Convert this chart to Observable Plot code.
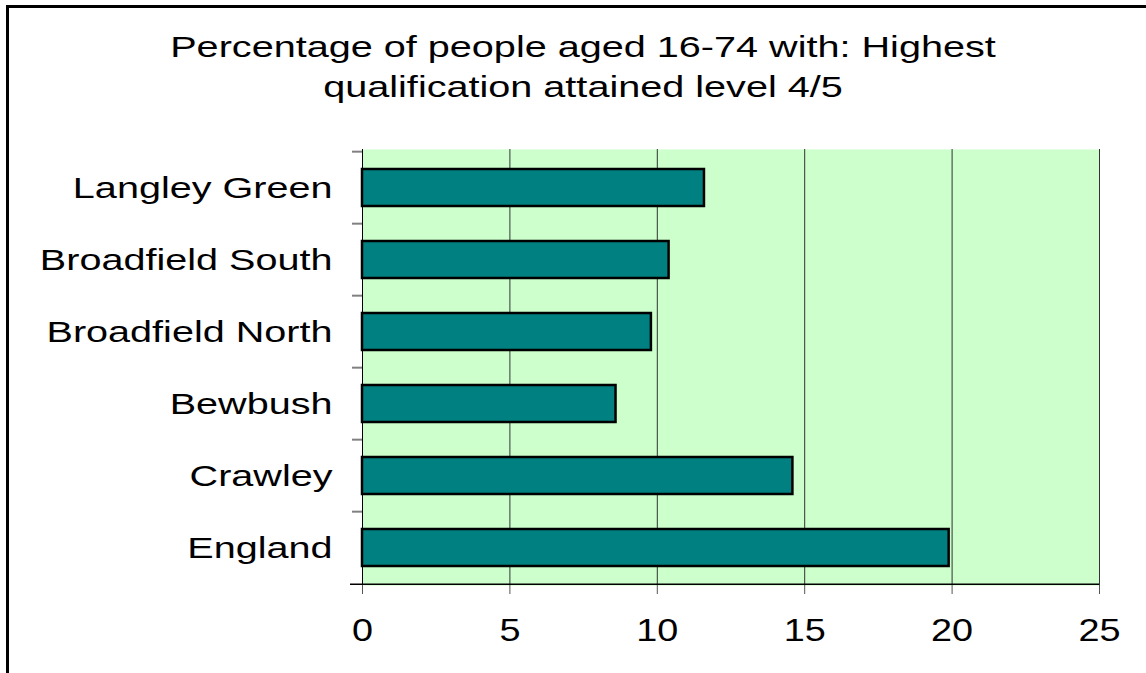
<!DOCTYPE html>
<html>
<head>
<meta charset="utf-8">
<script src="https://cdn.jsdelivr.net/npm/d3@7"></script>
<script src="https://cdn.jsdelivr.net/npm/@observablehq/plot@0.6"></script>
<style>
  html, body { margin: 0; padding: 0; background: #fff; }
  body { width: 1146px; height: 673px; overflow: hidden; position: relative; font-family: "Liberation Sans", Arial, sans-serif; }
  #border { position: absolute; left: 6px; top: 5px; width: 1300px; height: 800px; border: 3px solid #000; box-sizing: border-box; }
  #title { position: absolute; left: 10px; top: 27px; width: 1146px; text-align: center; font-size: 30px; line-height: 40px; color: #000; }
  #title div { transform: scaleX(1.32); transform-origin: 50% 0; white-space: nowrap; }
  #chart { position: absolute; left: 0; top: 0; }
</style>
</head>
<body>
<div id="border"></div>
<div id="title"><div>Percentage of people aged 16-74 with: Highest</div><div>qualification attained level 4/5</div></div>
<div id="chart"></div>
<script>
const categories = ["Langley Green", "Broadfield South", "Broadfield North", "Bewbush", "Crawley", "England"];
const values = [11.6, 10.4, 9.8, 8.6, 14.6, 19.9];
const xTicks = [0, 5, 10, 15, 20, 25];

const data = categories.map((c, i) => ({area: c, value: values[i]}));

const W = 1146, H = 673, mL = 362, mR = 47, mT = 149, mB = 88;
const padIn = 0.49, padOut = 0.245;
const step = (H - mT - mB) / (categories.length - padIn + 2 * padOut);
const frameW = W - mL - mR;

const plot = Plot.plot({
  width: W, height: H,
  marginLeft: mL, marginRight: mR, marginTop: mT, marginBottom: mB,
  style: {fontFamily: "'Liberation Sans', Arial, sans-serif", background: "transparent", color: "#000", overflow: "visible"},
  x: {domain: [0, 25], ticks: xTicks, label: null},
  y: {domain: categories, paddingInner: padIn, paddingOuter: padOut, label: null},
  marks: [
    Plot.frame({fill: "#ccffcc", stroke: null}),
    Plot.ruleX(xTicks.slice(1), {stroke: "#333", strokeWidth: 1}),
    Plot.barX(data, {x: "value", y: "area", fill: "#008080", stroke: "#000", strokeWidth: 2.5}),
    Plot.ruleX([0], {stroke: "#000", strokeWidth: 1}),
    Plot.ruleY(categories, {dy: -step / 2, insetLeft: -10, insetRight: frameW, stroke: "#808080", strokeWidth: 2}),
    Plot.ruleY(categories.slice(-1), {dy: step / 2, insetLeft: -12, stroke: "#000", strokeWidth: 1.5}),
    Plot.axisX({ticks: xTicks, tickSize: 9, tickPadding: 24, fontSize: 31, stroke: "#555", label: null, tickFormat: d => String(d)}),
    Plot.axisY({tickSize: 0, tickPadding: 30, fontSize: 30, label: null})
  ]
});

document.getElementById("chart").appendChild(plot);

// Horizontal stretch of the text, as in the reference
d3.select(plot).selectAll("text").each(function () {
  const g = this.closest("g[aria-label]");
  const lab = g ? g.getAttribute("aria-label") : "";
  const sx = lab.startsWith("x-axis") ? 1.22 : 1.32;
  const x = parseFloat(this.getAttribute("x")) || 0;
  let t = this.getAttribute("transform") || "";
  if (x) { t = `translate(${x},0) ` + t; this.removeAttribute("x"); }
  this.setAttribute("transform", `${t} scale(${sx},1)`);
});
</script>
</body>
</html>
